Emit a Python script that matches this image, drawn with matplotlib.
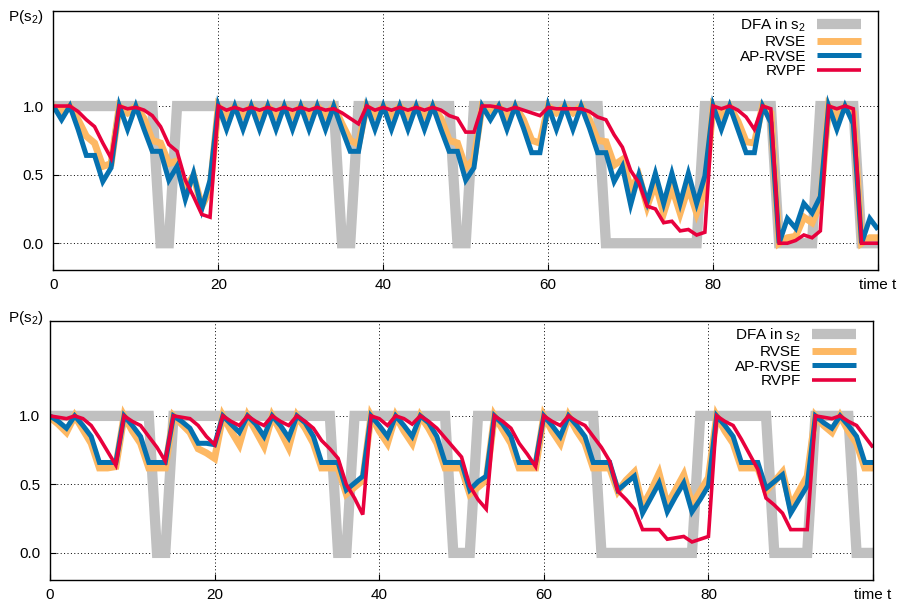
import matplotlib
matplotlib.use("Agg")
import matplotlib.pyplot as plt
import numpy as np

plt.rcParams['font.family'] = ['Liberation Sans', 'DejaVu Sans']
plt.rcParams['mathtext.fontset'] = 'custom'
plt.rcParams['mathtext.rm'] = 'Liberation Sans'
plt.rcParams['mathtext.it'] = 'Liberation Sans:italic'

time_t = np.arange(101)

# --- top panel ---
dfa_top = [1, 1, 1, 1, 1, 1, 1, 1, 1, 1,
           1, 1, 1, 0, 0, 1, 1, 1, 1, 1,
           1, 1, 1, 1, 1, 1, 1, 1, 1, 1,
           1, 1, 1, 1, 1, 0, 0, 1, 1, 1,
           1, 1, 1, 1, 1, 1, 1, 1, 1, 0,
           0, 1, 1, 1, 1, 1, 1, 1, 1, 1,
           1, 1, 1, 1, 1, 1, 1, 0, 0, 0,
           0, 0, 0, 0, 0, 0, 0, 0, 0, 1,
           1, 1, 1, 1, 1, 1, 1, 1, 0, 0,
           0, 0, 0, 1, 1, 1, 1, 1, 0, 0,
           0]
rvse_top = [1.0, 0.96, 1.0, 0.90, 0.78, 0.73, 0.56, 0.58, 1.0, 0.95,
            1.0, 0.91, 0.75, 0.73, 0.58, 0.60, 0.41, 0.49, 0.27, 0.39,
            1.0, 0.93, 1.0, 0.93, 1.0, 0.93, 1.0, 0.93, 1.0, 0.93,
            1.0, 0.93, 1.0, 0.93, 1.0, 0.87, 0.75, 0.72, 1.0, 0.93,
            1.0, 0.93, 1.0, 0.93, 1.0, 0.93, 1.0, 0.91, 0.75, 0.73,
            0.55, 0.61, 1.0, 0.97, 1.0, 0.91, 1.0, 0.90, 0.75, 0.73,
            1.0, 0.95, 1.0, 0.95, 1.0, 0.90, 0.75, 0.74, 0.57, 0.61,
            0.40, 0.49, 0.27, 0.44, 0.22, 0.41, 0.22, 0.41, 0.22, 0.38,
            1.0, 0.93, 1.0, 0.89, 0.74, 0.73, 1.0, 0.95, 0.0, 0.04,
            0.05, 0.19, 0.15, 0.29, 1.0, 0.92, 1.0, 0.95, 0.0, 0.04,
            0.04]
aprvse_top = [1.0, 0.90, 1.0, 0.83, 0.64, 0.64, 0.45, 0.55, 1.0, 0.83,
              1.0, 0.83, 0.67, 0.67, 0.46, 0.56, 0.32, 0.51, 0.25, 0.46,
              1.0, 0.83, 1.0, 0.83, 1.0, 0.83, 1.0, 0.83, 1.0, 0.83,
              1.0, 0.83, 1.0, 0.83, 1.0, 0.83, 0.67, 0.67, 1.0, 0.83,
              1.0, 0.83, 1.0, 0.83, 1.0, 0.83, 1.0, 0.83, 0.67, 0.67,
              0.46, 0.55, 1.0, 0.90, 1.0, 0.83, 1.0, 0.84, 0.66, 0.66,
              1.0, 0.83, 1.0, 0.83, 1.0, 0.84, 0.66, 0.66, 0.45, 0.56,
              0.28, 0.50, 0.30, 0.51, 0.29, 0.51, 0.29, 0.51, 0.29, 0.49,
              1.0, 0.83, 1.0, 0.83, 0.66, 0.66, 1.0, 0.88, 0.0, 0.18,
              0.11, 0.29, 0.22, 0.34, 1.0, 0.83, 1.0, 0.87, 0.0, 0.18,
              0.10]
rvpf_top = [1.0, 1.0, 1.0, 0.96, 0.90, 0.85, 0.73, 0.62, 1.0, 0.98,
            0.99, 0.97, 0.93, 0.85, 0.72, 0.67, 0.46, 0.34, 0.21, 0.19,
            1.0, 0.97, 0.99, 0.97, 0.99, 0.97, 0.99, 0.97, 0.99, 0.97,
            0.99, 0.97, 0.99, 0.97, 0.98, 0.95, 0.91, 0.87, 1.0, 0.97,
            0.99, 0.97, 0.99, 0.97, 0.99, 0.97, 0.99, 0.97, 0.93, 0.91,
            0.81, 0.81, 1.0, 1.0, 0.99, 0.97, 0.99, 0.97, 0.95, 0.93,
            0.99, 0.98, 0.98, 0.98, 0.98, 0.96, 0.92, 0.90, 0.79, 0.70,
            0.53, 0.44, 0.27, 0.25, 0.15, 0.16, 0.09, 0.10, 0.06, 0.08,
            1.0, 0.98, 1.0, 0.97, 0.92, 0.83, 1.0, 0.98, 0.0, 0.0,
            0.02, 0.06, 0.04, 0.09, 1.0, 0.98, 1.0, 0.98, 0.0, 0.0,
            0.0]

# --- bottom panel ---
dfa_bot = [1, 1, 1, 1, 1, 1, 1, 1, 1, 1,
           1, 1, 1, 0, 0, 1, 1, 1, 1, 1,
           1, 1, 1, 1, 1, 1, 1, 1, 1, 1,
           1, 1, 1, 1, 1, 0, 0, 1, 1, 1,
           1, 1, 1, 1, 1, 1, 1, 1, 1, 0,
           0, 0, 1, 1, 1, 1, 1, 1, 1, 1,
           1, 1, 1, 1, 1, 1, 1, 0, 0, 0,
           0, 0, 0, 0, 0, 0, 0, 0, 0, 1,
           1, 1, 1, 1, 1, 1, 1, 1, 0, 0,
           0, 0, 0, 1, 1, 1, 1, 1, 0, 0,
           0]
rvse_bot = [0.99, 0.94, 0.88, 1.0, 0.90, 0.80, 0.62, 0.62, 0.63, 1.0,
            0.89, 0.80, 0.62, 0.62, 0.62, 1.0, 0.94, 0.88, 0.76, 0.73,
            0.69, 1.0, 0.89, 0.79, 1.0, 0.89, 0.78, 1.0, 0.89, 0.77,
            1.0, 0.91, 0.80, 0.62, 0.62, 0.62, 0.43, 0.48, 0.53, 1.0,
            0.89, 0.80, 1.0, 0.89, 0.80, 1.0, 0.91, 0.80, 0.62, 0.62,
            0.62, 0.43, 0.48, 0.53, 1.0, 0.90, 0.80, 0.62, 0.62, 0.62,
            1.0, 0.89, 0.80, 1.0, 0.89, 0.80, 0.62, 0.62, 0.62, 0.45,
            0.53, 0.59, 0.34, 0.45, 0.58, 0.35, 0.46, 0.57, 0.35, 0.45,
            0.55, 1.0, 0.89, 0.80, 0.62, 0.62, 0.62, 0.45, 0.52, 0.59,
            0.34, 0.45, 0.56, 1.0, 0.93, 0.88, 1.0, 0.89, 0.80, 0.62,
            0.62]
aprvse_bot = [1.0, 0.96, 0.91, 1.0, 0.93, 0.85, 0.66, 0.66, 0.66, 1.0,
              0.93, 0.85, 0.66, 0.66, 0.66, 1.0, 0.96, 0.91, 0.80, 0.80,
              0.79, 1.0, 0.94, 0.88, 1.0, 0.94, 0.85, 1.0, 0.93, 0.84,
              1.0, 0.95, 0.85, 0.66, 0.66, 0.66, 0.46, 0.51, 0.56, 1.0,
              0.93, 0.85, 1.0, 0.93, 0.85, 1.0, 0.95, 0.85, 0.66, 0.66,
              0.66, 0.46, 0.52, 0.56, 1.0, 0.94, 0.85, 0.66, 0.66, 0.66,
              1.0, 0.93, 0.85, 1.0, 0.93, 0.85, 0.66, 0.66, 0.66, 0.46,
              0.51, 0.56, 0.29, 0.40, 0.51, 0.30, 0.41, 0.51, 0.30, 0.39,
              0.49, 1.0, 0.93, 0.85, 0.66, 0.66, 0.66, 0.47, 0.52, 0.57,
              0.29, 0.39, 0.49, 1.0, 0.95, 0.91, 1.0, 0.93, 0.85, 0.66,
              0.66]
rvpf_bot = [1.0, 0.99, 0.98, 1.0, 0.98, 0.93, 0.84, 0.74, 0.64, 1.0,
            0.96, 0.93, 0.85, 0.77, 0.67, 1.0, 0.99, 0.98, 0.93, 0.85,
            0.79, 1.0, 0.96, 0.93, 1.0, 0.96, 0.93, 1.0, 0.96, 0.93,
            1.0, 0.96, 0.91, 0.82, 0.76, 0.69, 0.50, 0.40, 0.28, 1.0,
            0.98, 0.93, 1.0, 0.98, 0.94, 1.0, 0.96, 0.91, 0.84, 0.77,
            0.70, 0.49, 0.39, 0.32, 1.0, 0.96, 0.91, 0.80, 0.72, 0.63,
            1.0, 0.96, 0.93, 1.0, 0.96, 0.93, 0.85, 0.77, 0.67, 0.45,
            0.39, 0.32, 0.17, 0.17, 0.17, 0.10, 0.11, 0.12, 0.08, 0.10,
            0.12, 1.0, 0.96, 0.93, 0.83, 0.72, 0.61, 0.40, 0.35, 0.29,
            0.17, 0.17, 0.17, 1.0, 0.99, 0.98, 1.0, 0.96, 0.93, 0.85,
            0.77]

x_ticks = [0, 20, 40, 60, 80, 100]
x_ticklabels = ['0', '20', '40', '60', '80', 'time t']
y_ticks = [0.0, 0.5, 1.0]
y_ticklabels = ['0.0', '0.5', '1.0']
labels = ['DFA in s$_2$', 'RVSE', 'AP-RVSE', 'RVPF']

GRAY = '#c0c0c0'
ORANGE = '#fdb863'
BLUE = '#0571b0'
RED = '#e8003d'
FS = 11


def draw_panel(ax, dfa, rvse, aprvse, rvpf):
    kw = dict(solid_joinstyle='miter', solid_capstyle='butt')
    ax.plot(time_t, dfa, color=GRAY, lw=7.4, label=labels[0], **kw)
    ax.plot(time_t, rvse, color=ORANGE, lw=5.0, label=labels[1], **kw)
    ax.plot(time_t, aprvse, color=BLUE, lw=3.6, label=labels[2], **kw)
    ax.plot(time_t, rvpf, color=RED, lw=2.6, label=labels[3], **kw)
    ax.set_xlim(0, 100)
    ax.set_ylim(-0.195, 1.695)
    ax.set_xticks(x_ticks)
    ax.set_xticklabels(x_ticklabels)
    ax.set_yticks(y_ticks)
    ax.set_yticklabels(y_ticklabels)
    ax.tick_params(direction='in', length=4, width=0.8, labelsize=FS)
    ax.tick_params(axis='x', pad=6)
    ax.tick_params(axis='y', pad=7)
    ax.set_axisbelow(True)
    ax.grid(True, color='black', linestyle=(0, (1, 2.5)), linewidth=0.7)
    for sp in ax.spines.values():
        sp.set_linewidth(1.0)
    ax.legend(loc='upper right', bbox_to_anchor=(0.987, 1.0), frameon=False,
              markerfirst=False, fontsize=FS, handlelength=2.9,
              handletextpad=0.7, labelspacing=0.05, borderaxespad=0.2,
              borderpad=0.2)


fig = plt.figure(figsize=(8.98, 6.07), dpi=100)
ax1 = fig.add_axes([0.0594, 0.5552, 0.9184, 0.4272])
ax2 = fig.add_axes([0.0557, 0.0451, 0.9165, 0.4266])

draw_panel(ax1, dfa_top, rvse_top, aprvse_top, rvpf_top)
draw_panel(ax2, dfa_bot, rvse_bot, aprvse_bot, rvpf_bot)

fig.text(26 / 898, 1 - 17 / 607, 'P(s$_2$)', ha='center', va='center', fontsize=FS)
fig.text(26 / 898, 1 - 318 / 607, 'P(s$_2$)', ha='center', va='center', fontsize=FS)

fig.savefig('out.png', dpi=100)
